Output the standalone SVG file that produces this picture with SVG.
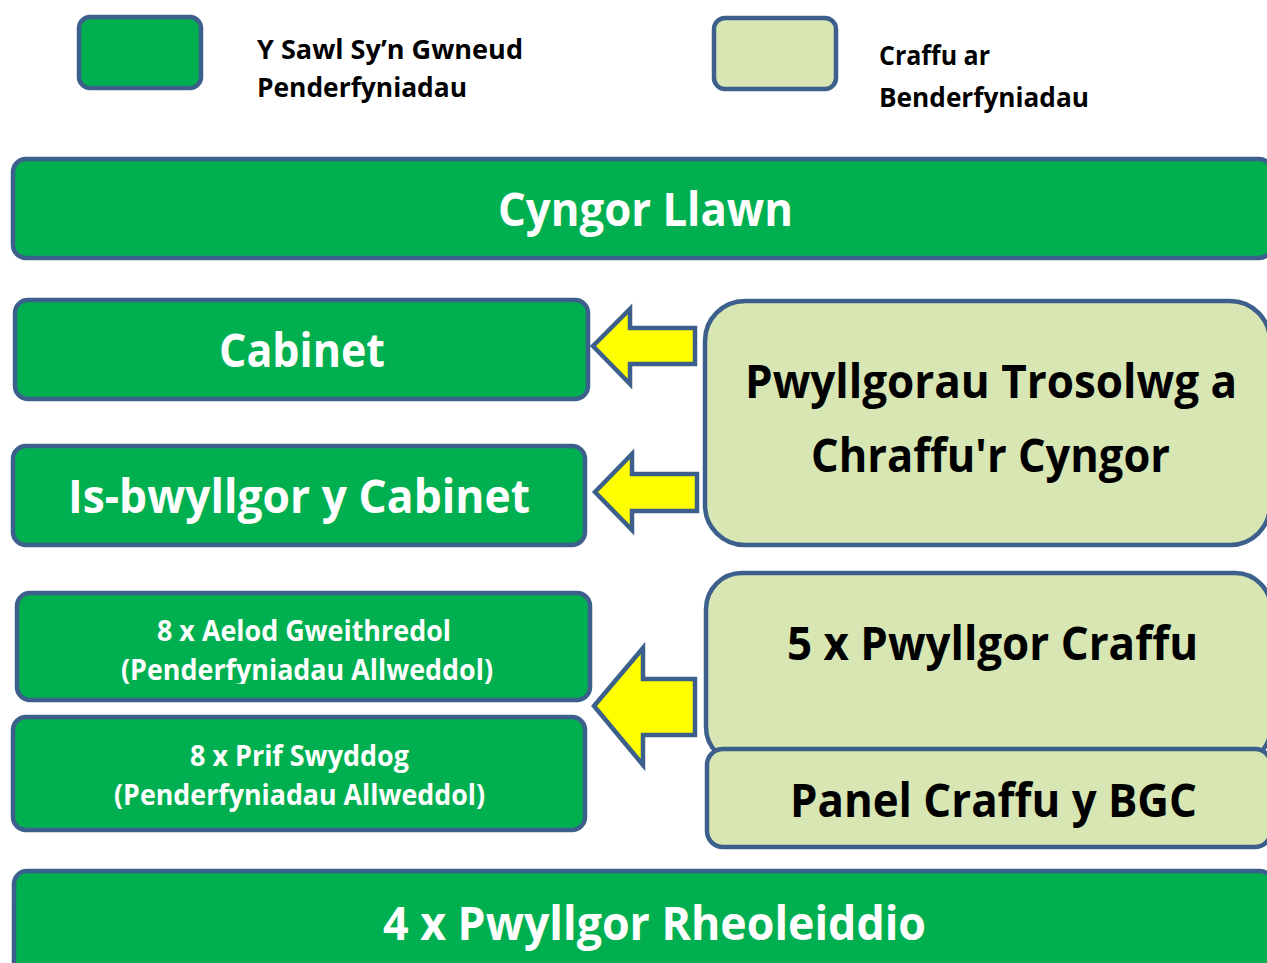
<svg xmlns="http://www.w3.org/2000/svg" width="1267" height="963" viewBox="0 0 1267 963">
  <style>
    .dec { fill: #00B050; stroke: #3C5F8C; stroke-width: 4.5; }
    .scr { fill: #D7E6B3; stroke: #3C5F8C; stroke-width: 4.5; }
    .arr { fill: #FFFF00; stroke: #3C5F8C; stroke-width: 4.5; stroke-linejoin: miter; }
    text { font-family: "Open Sans", "Noto Sans", "Liberation Sans", sans-serif; font-weight: bold; }
    .w { fill: #FFFFFF; text-anchor: middle; }
    .k { fill: #000000; text-anchor: middle; }
    .lg { fill: #000000; font-size: 26px; }
    .big { font-size: 46px; }
    .sm { font-size: 28px; }
  </style>
  <defs>
    <clipPath id="clipAelod">
      <rect x="0" y="590" width="620" height="94"/>
    </clipPath>
  </defs>
  <rect width="1267" height="963" fill="#FFFFFF"/>

  <g id="legend-decision">
    <rect class="dec" x="79" y="17" width="122" height="71" rx="11"/>
    <text class="lg" x="257" y="59" textLength="266" lengthAdjust="spacingAndGlyphs">Y Sawl Sy’n Gwneud</text>
    <text class="lg" x="257" y="97" textLength="210" lengthAdjust="spacingAndGlyphs">Penderfyniadau</text>
  </g>
  <g id="legend-scrutiny">
    <rect class="scr" x="714" y="18" width="122" height="71" rx="11"/>
    <text class="lg" x="879" y="65" textLength="111" lengthAdjust="spacingAndGlyphs">Craffu ar</text>
    <text class="lg" x="879" y="107" textLength="210" lengthAdjust="spacingAndGlyphs">Benderfyniadau</text>
  </g>

  <g id="cyngor-llawn">
    <rect class="dec" x="13" y="159" width="1259" height="99" rx="13"/>
    <text class="w big" x="645.5" y="226" textLength="295" lengthAdjust="spacingAndGlyphs">Cyngor Llawn</text>
  </g>

  <g id="cabinet">
    <rect class="dec" x="15" y="300" width="573" height="99" rx="13"/>
    <text class="w big" x="302" y="367" textLength="166" lengthAdjust="spacingAndGlyphs">Cabinet</text>
  </g>

  <g id="is-bwyllgor">
    <rect class="dec" x="13" y="446" width="572" height="99" rx="13"/>
    <text class="w big" x="299" y="513" textLength="462" lengthAdjust="spacingAndGlyphs">Is-bwyllgor y Cabinet</text>
  </g>

  <g id="pwyllgorau-trosolwg">
    <rect class="scr" x="705" y="301" width="565" height="244" rx="40"/>
    <text class="k big" x="991" y="398" textLength="492" lengthAdjust="spacingAndGlyphs">Pwyllgorau Trosolwg a</text>
    <text class="k big" x="990.5" y="472" textLength="359" lengthAdjust="spacingAndGlyphs">Chraffu'r Cyngor</text>
  </g>

  <g id="aelod-gweithredol">
    <rect class="dec" x="17" y="593" width="573" height="107" rx="13"/>
    <g clip-path="url(#clipAelod)">
      <text class="w sm" x="304" y="641" textLength="294" lengthAdjust="spacingAndGlyphs">8 x Aelod Gweithredol</text>
      <text class="w sm" x="307" y="680" textLength="372" lengthAdjust="spacingAndGlyphs">(Penderfyniadau Allweddol)</text>
    </g>
  </g>

  <g id="prif-swyddog">
    <rect class="dec" x="13" y="717" width="572" height="113" rx="13"/>
    <text class="w sm" x="299.5" y="766" textLength="219" lengthAdjust="spacingAndGlyphs">8 x Prif Swyddog</text>
    <text class="w sm" x="299.5" y="805" textLength="371" lengthAdjust="spacingAndGlyphs">(Penderfyniadau Allweddol)</text>
  </g>

  <g id="pwyllgor-craffu">
    <rect class="scr" x="706" y="573" width="565" height="190" rx="36"/>
    <text class="k big" x="992.5" y="660" textLength="411" lengthAdjust="spacingAndGlyphs">5 x Pwyllgor Craffu</text>
  </g>

  <g id="panel-bgc">
    <rect class="scr" x="707" y="749" width="564" height="98" rx="16"/>
    <text class="k big" x="993.5" y="817" textLength="407" lengthAdjust="spacingAndGlyphs">Panel Craffu y BGC</text>
  </g>

  <g id="pwyllgor-rheoleiddio">
    <rect class="dec" x="14" y="871" width="1259" height="140" rx="13"/>
    <text class="w big" x="654.5" y="940" textLength="543" lengthAdjust="spacingAndGlyphs">4 x Pwyllgor Rheoleiddio</text>
  </g>

  <g id="connectors">
    <polygon class="arr" points="593,346 630,309 630,328 695,328 695,364 630,364 630,384"/>
    <polygon class="arr" points="595,492 632,454 632,474 697,474 697,511 632,511 632,530"/>
    <polygon class="arr" points="594,706 643,648 643,679 695,679 695,735 643,735 643,765"/>
  </g>
</svg>
